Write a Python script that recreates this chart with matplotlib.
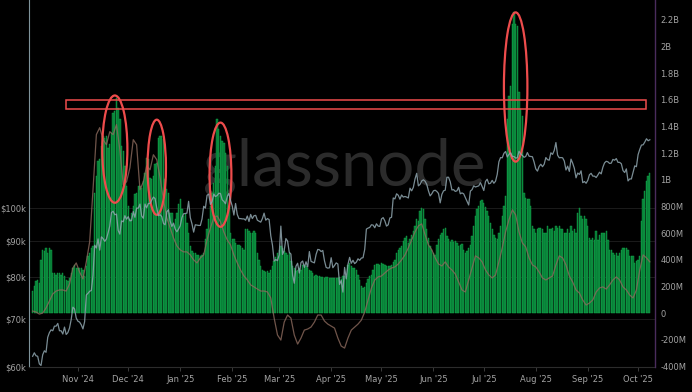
import numpy as np
import pandas as pd
import matplotlib
matplotlib.use('Agg')
import matplotlib.pyplot as plt
import matplotlib.dates as mdates
from matplotlib.patches import Ellipse, Rectangle
from matplotlib.ticker import FixedLocator, NullLocator

# daily series, starting 2024-10-05
start_date = '2024-10-05'

# bars (right axis), in millions
volume_m = [
    163, 201, 238, 251, 226, 401, 476, 464, 489, 451,
    489, 476, 301, 301, 288, 301, 301, 288, 301, 276,
    251, 238, 263, 301, 338, 364, 338, 338, 338, 338,
    326, 276, 351, 426, 451, 489, 501, 903, 1028, 1141,
    1153, 1254, 1329, 1316, 1329, 1241, 1266, 1354, 1504, 1517,
    1617, 1542, 1454, 1254, 1216, 1103, 953, 802, 702, 752,
    802, 890, 903, 953, 953, 940, 990, 1053, 1166, 1153,
    1015, 1003, 1028, 1116, 1128, 1316, 1329, 1329, 1304, 1003,
    928, 903, 752, 752, 664, 702, 752, 815, 852, 777,
    727, 740, 677,
    602, 501, 464, 451, 451, 439, 439, 426, 439, 451,
    552, 627, 702, 802, 903, 978, 1103, 1454, 1379, 1329,
    1291, 1279, 1203, 1103, 802, 602, 552, 552, 526, 514,
    514, 501, 489, 476, 627, 632, 614, 602, 602, 614,
    602, 451, 401, 351, 326, 313, 306, 313, 301, 321,
    356, 389, 421, 451, 476, 501, 489, 464, 451, 439,
    451, 389, 351, 338, 313, 326, 338, 326, 364, 364,
    351, 338, 326, 313, 301, 276, 288, 276, 276, 271,
    271, 263, 271, 271, 263, 263, 263, 263, 263, 263,
    271, 256, 276, 276, 276,
    364, 376, 351, 338, 338, 326, 288, 251, 201, 188,
    196, 226, 256, 276, 288, 326, 364, 371, 371, 364,
    376, 371, 364, 351, 351, 356, 364, 381, 401, 451,
    476, 489, 501, 539, 564, 577, 526, 552, 582, 614,
    652, 702, 689, 765, 790, 777, 702, 627, 564, 501,
    476, 451, 439, 514, 557, 582, 597, 632, 639, 577,
    552, 531, 547, 531, 539, 526, 506, 511, 521, 476,
    451, 464, 489, 514,
    577, 652, 727, 777, 802, 840, 847, 822, 797, 765,
    727, 677, 627, 589, 564, 552, 602, 652, 727, 802,
    877, 1454, 1630, 1705, 2169, 2256, 2169, 2156, 1655, 1529,
    1479, 903, 865, 852, 852, 802, 652, 627, 602, 632,
    639, 639, 627, 602, 602, 652, 627, 627, 639, 614,
    652, 639, 652, 627, 627, 602, 602, 627, 602, 652,
    614, 627, 602, 752, 790, 727, 702, 727, 702, 652,
    564, 551, 564, 551, 614, 551, 589, 602, 602, 602,
    614, 551, 476, 476, 451, 439, 451, 426, 451, 476,
    489, 489, 489, 476, 426, 426, 426, 376, 389, 401,
    426, 689, 852, 915, 990, 1028, 1053,
]

# price (left axis, log), in $k
price_k = [
    # Oct 24
    62.1, 62.8, 62.2, 62.1, 60.6, 60.3, 62.4, 63.2, 62.9, 66.0,
    67.0, 67.6, 67.4, 68.4, 68.4, 69.0, 67.4, 67.4, 66.7, 68.2,
    66.6, 67.0, 68.0, 69.9, 72.7, 72.3, 70.2,
    # Nov 24
    69.5, 69.3, 68.7, 67.8, 69.4, 75.6, 76.0, 76.5, 76.7, 80.5,
    88.7, 87.9, 90.5, 87.3, 91.1, 90.6, 89.8, 90.5, 92.3, 94.3,
    98.5, 98.9, 97.8, 98.0, 93.0, 91.9, 95.9, 95.6, 97.5, 96.4,
    # Dec 24
    97.2, 95.9, 96.0, 98.8, 97.0, 99.9, 99.9, 101.2, 97.4, 96.7,
    101.2, 100.0, 101.4, 101.4, 102.5, 103.5, 103.0, 100.0, 97.5, 97.8,
    97.2, 95.1, 94.7, 98.7, 99.4, 95.8, 94.2, 95.2, 93.4, 92.6,
    93.4,
    # Jan 25
    94.4, 96.9, 98.1, 98.2, 98.3, 102.1, 96.9, 95.0, 92.5, 94.7,
    94.6, 94.5, 94.5, 96.5, 100.5, 99.9, 104.1, 104.5, 101.1, 102.0,
    104.5, 103.7, 104.0, 104.8, 104.7, 102.6, 102.1, 101.3, 103.7, 104.7,
    102.4,
    # Feb 25
    100.6, 97.7, 101.4, 97.9, 96.6, 96.6, 96.5, 96.5, 96.1, 97.4,
    95.7, 97.9, 96.6, 97.5, 97.6, 96.1, 95.8, 95.5, 96.6, 98.3,
    96.1, 96.6, 96.3, 91.4, 88.7, 84.3, 84.7, 84.4,
    # Mar 25
    86.0, 94.3, 86.1, 87.2, 90.6, 89.9, 86.7, 86.2, 80.6, 78.5,
    82.9, 83.7, 81.1, 83.9, 84.3, 82.6, 84.1, 82.7, 86.9, 84.2,
    84.0, 83.8, 86.1, 87.5, 87.4, 86.9, 87.2, 84.4, 82.6, 82.4,
    82.5,
    # Apr 25
    85.2, 82.5, 83.1, 83.8, 83.5, 78.2, 79.2, 76.3, 82.6, 79.6,
    83.4, 85.3, 83.7, 84.5, 83.6, 84.0, 84.9, 84.5, 85.1, 85.2,
    87.5, 93.4, 93.7, 93.9, 94.7, 94.6, 93.8, 95.0, 94.3, 94.2,
    # May 25
    96.5, 96.9, 95.9, 94.3, 94.7, 96.8, 97.0, 103.2, 102.9, 104.6,
    104.1, 102.8, 104.2, 103.5, 103.7, 103.5, 103.2, 106.5, 105.6, 106.8,
    109.7, 111.7, 107.3, 107.8, 109.0, 109.4, 108.9, 107.8, 105.6, 103.9,
    104.6,
    # Jun 25
    105.6, 105.8, 105.4, 104.7, 101.6, 104.4, 105.6, 105.8, 110.3, 110.3,
    108.7, 105.9, 106.0, 105.4, 105.6, 106.8, 104.6, 104.9, 104.6, 103.3,
    102.1, 100.9, 105.5, 106.0, 107.3, 106.9, 107.1, 107.3, 108.4, 107.1,
    # Jul 25
    105.7, 108.8, 109.6, 108.0, 108.2, 109.2, 108.2, 108.9, 111.3, 115.9,
    117.5, 117.4, 119.1, 119.8, 117.7, 118.7, 119.3, 117.9, 117.9, 117.3,
    117.4, 119.9, 118.8, 118.3, 117.6, 117.9, 119.4, 118.0, 117.9, 117.8,
    115.8,
    # Aug 25
    113.3, 112.5, 114.2, 115.0, 114.1, 115.0, 117.5, 116.7, 116.5, 119.3,
    118.7, 120.2, 123.3, 118.4, 117.4, 117.5, 117.4, 116.2, 112.9, 114.3,
    112.4, 116.9, 115.4, 113.5, 110.1, 111.8, 111.3, 112.6, 108.4, 108.8,
    108.2,
    # Sep 25
    109.2, 111.2, 111.7, 110.7, 110.7, 110.2, 111.1, 112.1, 111.5, 113.9,
    115.5, 116.1, 115.9, 115.3, 115.4, 116.8, 116.5, 117.1, 115.7, 115.7,
    115.2, 112.7, 112.0, 113.3, 109.0, 109.7, 109.7, 112.1, 114.4, 114.1,
    # Oct 25
    118.6, 120.6, 122.3, 122.4, 123.5, 124.8, 124.0, 124.4,
]

# oscillator line (right axis), one reading every 2 days, in millions
osc_m = [
    15, 8, -8, 0, 38, 90, 143, 165, 173, 173,
    165, 218, 338, 376, 308, 256, 384, 534, 925, 1339,
    1391, 1301, 1263, 1361, 1339, 1414, 1226, 963, 985, 1090,
    1301, 1263, 925, 985, 1105, 1075, 1188, 1151, 1015, 850,
    714, 639, 564, 504, 474, 459, 459, 436, 399, 376,
    414, 436, 549, 639, 714, 729, 684, 609, 549, 511,
    436, 376, 323, 278, 248, 211, 196, 180, 165, 165,
    158, 113, -38, -165, -203, -68, -15, -38, -165, -233,
    -188, -128, -120, -105, -68, -15, -15, -60, -83, -98,
    -113, -188, -248, -263, -188, -128, -105, -83, -53, 8,
    98, 188, 248, 271, 278, 301, 323, 338, 346, 368,
    399, 436, 489, 549, 609, 654, 669, 587, 511, 474,
    414, 368, 353, 384, 346, 323, 293, 233, 173, 158,
    248, 338, 429, 414, 384, 323, 286, 263, 286, 384,
    489, 609, 699, 775, 737, 609, 526, 496, 414, 361,
    346, 308, 263, 248, 263, 278, 361, 429, 414, 361,
    278, 233, 173, 150, 98, 60, 75, 98, 158, 188,
    196, 180, 211, 248, 271, 248, 196, 173, 135, 113,
    173, 323, 436, 414, 384,
]

right_ticks = [-400, -200, 0, 200, 400, 600, 800, 1000, 1200, 1400, 1600, 1800, 2000, 2200]
right_labels = ['-400M', '-200M', '0', '200M', '400M', '600M', '800M', '1B',
                '1.2B', '1.4B', '1.6B', '1.8B', '2B', '2.2B']
left_ticks = [60, 70, 80, 90, 100]
left_labels = ['$60k', '$70k', '$80k', '$90k', '$100k']

# highlighted peaks: (centre date, centre value M, width days, height M)
peaks = [
    ('2024-11-23', 1230, 15, 805),
    ('2024-12-18', 1094, 11, 714),
    ('2025-01-25', 1038, 13, 782),
    ('2025-07-20', 1696, 14, 1120),
]
band = ('2024-10-25', '2025-10-06', 1534, 1602)

dates = pd.date_range(start_date, periods=len(price_k), freq='D')
osc_dates = dates[::2]
vol = np.array(volume_m) * 1e6
price = np.array(price_k) * 1e3
osc = np.array(osc_m) * 1e6

bg = '#000000'
txt = '#a3a3a3'
red = '#ee4c4c'

fig = plt.figure(figsize=(6.92, 3.92), dpi=100, facecolor=bg)
rect = [29 / 692, 25 / 392, 626 / 692, 367 / 392]

# base axes: price scale, grid, x labels, watermark
ax_g = fig.add_axes(rect, facecolor=bg)
ax_g.set_yscale('log')
ax_g.set_ylim(60000, 194800)
ax_g.yaxis.set_major_locator(FixedLocator([v * 1e3 for v in left_ticks]))
ax_g.yaxis.set_minor_locator(NullLocator())
ax_g.set_yticklabels(left_labels)
ax_g.grid(axis='y', color='#1b1b1b', linewidth=0.7)
ax_g.tick_params(axis='y', length=0, pad=2, labelsize=6, labelcolor=txt)
ax_g.text(0.503, 0.495, 'glassnode', transform=ax_g.transAxes, ha='center', va='baseline',
          fontsize=47, color='#2b2b2b', family='Lato', fontweight='normal', zorder=0)

x0 = mdates.date2num(pd.Timestamp('2024-10-02 20:00'))
x1 = mdates.date2num(pd.Timestamp('2025-10-11 02:00'))
ax_g.set_xlim(x0, x1)
ax_g.xaxis.set_major_locator(mdates.MonthLocator())
ax_g.xaxis.set_major_formatter(mdates.DateFormatter("%b '%y"))
ax_g.tick_params(axis='x', length=3, width=0.6, color='#444444', pad=3, labelsize=6, labelcolor=txt)
for s in ['top', 'right']:
    ax_g.spines[s].set_visible(False)
ax_g.spines['left'].set_color('#7f939b')
ax_g.spines['left'].set_linewidth(0.8)
ax_g.spines['bottom'].set_color('#2c2c2c')

# bars + oscillator, right scale
ax_v = fig.add_axes(rect, sharex=ax_g, facecolor='none')
ax_v.bar(dates, vol, width=0.8, color='#067533', edgecolor='#14b04f', linewidth=0.3, zorder=2)
ax_v.plot(osc_dates, osc, color='#8c6a5d', linewidth=0.9, alpha=0.8, zorder=3)
ax_v.set_ylim(-405e6, 2349e6)
ax_v.yaxis.tick_right()
ax_v.set_yticks([v * 1e6 for v in right_ticks])
ax_v.set_yticklabels(right_labels)
ax_v.tick_params(axis='y', length=0, pad=4, labelsize=6, labelcolor=txt)
ax_v.xaxis.set_visible(False)
for s in ['top', 'left', 'bottom']:
    ax_v.spines[s].set_visible(False)
ax_v.spines['right'].set_color('#4a2c5c')
ax_v.spines['right'].set_linewidth(1.0)

# price line on top
ax_p = fig.add_axes(rect, sharex=ax_g, facecolor='none')
ax_p.set_yscale('log')
ax_p.set_ylim(60000, 194800)
ax_p.plot(dates, price, color='#8fa5ae', linewidth=0.9, alpha=0.85)
ax_p.axis('off')

# annotations on top, in bar-axis units
for d, yc, w, h in peaks:
    e = Ellipse((mdates.date2num(pd.Timestamp(d)), yc * 1e6), w, h * 1e6,
                fill=False, edgecolor=red, linewidth=1.6, transform=ax_v.transData)
    ax_p.add_artist(e)
b0 = mdates.date2num(pd.Timestamp(band[0]))
b1 = mdates.date2num(pd.Timestamp(band[1]))
r = Rectangle((b0, band[2] * 1e6), b1 - b0, (band[3] - band[2]) * 1e6,
              fill=False, edgecolor=red, linewidth=1.1, transform=ax_v.transData)
ax_p.add_artist(r)

plt.savefig('out.png', dpi=100, facecolor=bg)
plt.close()
